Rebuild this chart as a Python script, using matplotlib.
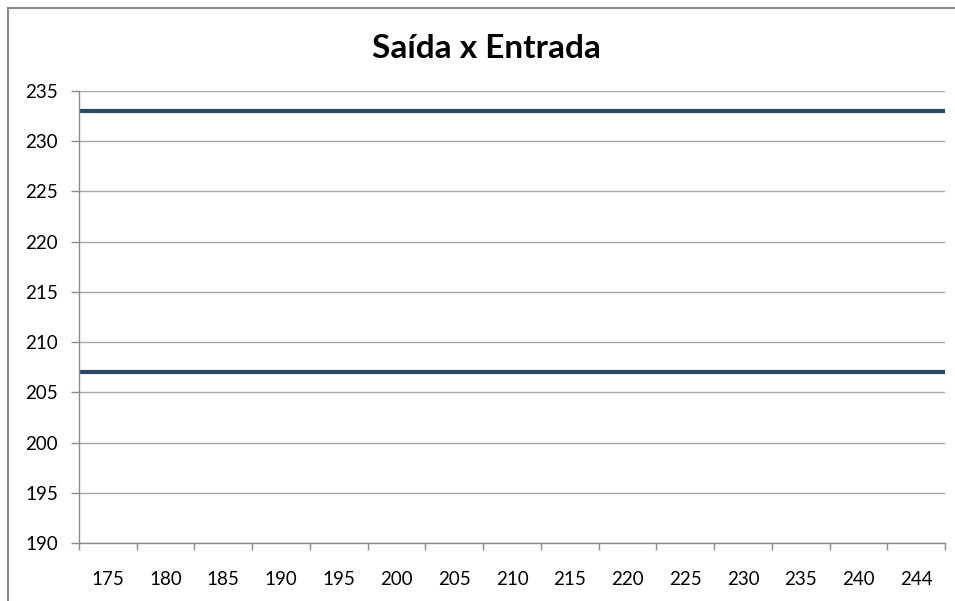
import numpy as np
import matplotlib
matplotlib.use("Agg")
import matplotlib.pyplot as plt
from matplotlib.patches import Rectangle

# entrada (categories) and two constant saida series
entrada = ["175", "180", "185", "190", "195", "200", "205", "210",
           "215", "220", "225", "230", "235", "240", "244"]
saida_alta = [233, 233, 233, 233, 233, 233, 233, 233, 233, 233, 233, 233, 233, 233, 233]
saida_baixa = [207, 207, 207, 207, 207, 207, 207, 207, 207, 207, 207, 207, 207, 207, 207]
y_ticks = [190, 195, 200, 205, 210, 215, 220, 225, 230, 235]

plt.rcParams['font.family'] = ['Lato', 'DejaVu Sans']

W, H = 955, 601
fig = plt.figure(figsize=(W / 100, H / 100), dpi=100)

# chart area border (cropped at right/bottom like the reference)
fig.patches.append(Rectangle((7.5 / W, -0.1), 1.2, 1 - 7.5 / H + 0.1,
                             transform=fig.transFigure, fill=False,
                             edgecolor='#8C8C8C', linewidth=1.5))

ax = fig.add_axes([79 / W, 1 - 543 / H, (945 - 79) / W, (543 - 91) / H])

n = len(entrada)
# points spread edge to edge of the category axis
x_pts = np.linspace(-0.5, n - 0.5, n)
line_color = '#2C4867'
ax.plot(x_pts, saida_alta, color=line_color, linewidth=3.0, solid_capstyle='round')
ax.plot(x_pts, saida_baixa, color=line_color, linewidth=3.0, solid_capstyle='round')

ax.set_xlim(-0.5, n - 0.5)
ax.set_ylim(190, 235)

ax.set_yticks(y_ticks)
ax.set_yticklabels([str(v) for v in y_ticks], fontsize=13.5)
ax.yaxis.grid(True, color='#A6A6A6', linewidth=1.0)
ax.set_axisbelow(True)

# labels centred in slots, tick marks on the slot boundaries
ax.set_xticks(np.arange(n))
ax.set_xticklabels(entrada, fontsize=13.5)
ax.tick_params(axis='x', length=0, pad=20)
ax.set_xticks(np.arange(n + 1) - 0.5, minor=True)
ax.tick_params(axis='x', which='minor', length=5, width=1, color='#8C8C8C')
ax.tick_params(axis='y', length=6, width=1, color='#8C8C8C', pad=9)

for s in ['top', 'right']:
    ax.spines[s].set_visible(False)
for s in ['left', 'bottom']:
    ax.spines[s].set_color('#8C8C8C')
    ax.spines[s].set_linewidth(1.0)

fig.text(486 / W, 1 - 48 / H, "Saída x Entrada", ha='center', va='center',
         fontsize=24, fontweight='bold')

fig.savefig("out.png", dpi=100)
